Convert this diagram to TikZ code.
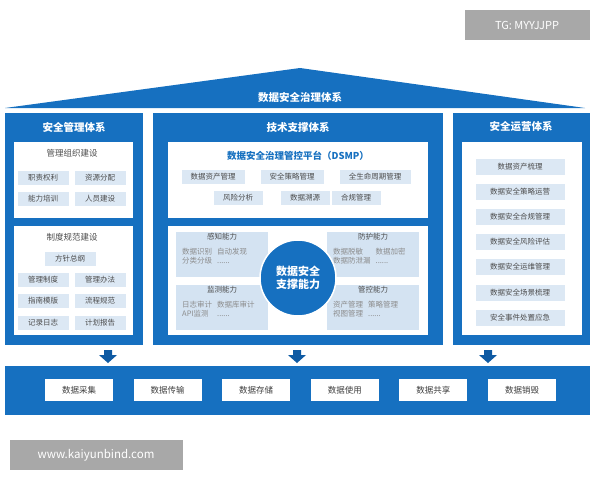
\documentclass[tikz,border=0pt]{standalone}
\usepackage{fontspec}
\setmainfont{Noto Sans CJK SC}
\usetikzlibrary{positioning}
\definecolor{sblue}{HTML}{1670C0}
\definecolor{dblue}{HTML}{0E5AA3}
\definecolor{lblue}{HTML}{DCE8F4}
\definecolor{pblue}{HTML}{D4E3F2}
\definecolor{wgray}{HTML}{A8A8A8}
\newcommand{\etcdots}{......}
\begin{document}
\begin{tikzpicture}[x=1pt,y=-1pt,
    btn/.style={fill=lblue, draw=white, minimum height=15, inner sep=1pt, font=\fontsize{7.5}{8}\selectfont, text=black!70},
    stage/.style={fill=white, minimum width=68, minimum height=22, inner sep=1pt, font=\fontsize{8.5}{9}\selectfont, text=black!75},
    head/.style={text=white, font=\fontsize{10.5}{11}\selectfont\bfseries},
    sub/.style={text=black!70, font=\fontsize{8.5}{9}\selectfont},
    ability/.style={fill=pblue, minimum width=92, minimum height=45, anchor=north west},
    small/.style={text=black!45, font=\fontsize{7.5}{9}\selectfont},
    darr/.style={fill=dblue, draw=none}]
  \useasboundingbox (0,0) rectangle (600,480);
  \fill[white] (0,0) rectangle (600,480);

  % watermarks
  \node[fill=wgray, minimum width=125, minimum height=30, text=white, font=\fontsize{11}{12}\selectfont] (tg) at (527,25) {TG: MYYJJPP};
  \node[fill=wgray, minimum width=173, minimum height=30, text=white, font=\fontsize{11.5}{12}\selectfont] (www) at (96,455) {www.kaiyunbind.com};

  % roof
  \fill[sblue] (5,108) -- (300,68) -- (585,108) -- cycle;
  \node[head] (roof) at (300,97) {数据安全治理体系};

  % columns
  \fill[sblue] (5,113) rectangle (143,345);
  \fill[sblue] (153,113) rectangle (443,345);
  \fill[sblue] (453,113) rectangle (590,345);
  \node[head] (mgmt) at (74,127) {安全管理体系};
  \node[head] (tech) at (298,127) {技术支撑体系};
  \node[head] (ops) at (521,127) {安全运营体系};

  % left column
  \fill[white] (14,142) rectangle (133,218);
  \fill[white] (14,226) rectangle (133,335);
  \node[sub] (org) at (72,153) {管理组织建设};
  \node[btn, minimum width=52] (o1) at (43,178) {职责权利};
  \node[btn, minimum width=52] (o2) at (100,178) {资源分配};
  \node[btn, minimum width=52] (o3) at (43,199) {能力培训};
  \node[btn, minimum width=52] (o4) at (100,199) {人员建设};
  \node[sub] (rule) at (72,237) {制度规范建设};
  \node[btn, minimum width=52] (r0) at (70,259) {方针总纲};
  \node[btn, minimum width=52] (r1) at (43,280) {管理制度};
  \node[btn, minimum width=52] (r2) at (100,280) {管理办法};
  \node[btn, minimum width=52] (r3) at (43,301) {指南模版};
  \node[btn, minimum width=52] (r4) at (100,301) {流程规范};
  \node[btn, minimum width=52] (r5) at (43,323) {记录日志};
  \node[btn, minimum width=52] (r6) at (100,323) {计划报告};

  % middle column
  \fill[white] (168,142) rectangle (428,218);
  \fill[white] (168,226) rectangle (428,335);
  \node[text=sblue, font=\fontsize{9.5}{10}\selectfont\bfseries] (dsmp) at (298,156) {数据安全治理管控平台（DSMP）};
  \node[btn, minimum width=64] (p1) at (213,177) {数据资产管理};
  \node[btn, minimum width=64] (p2) at (292,177) {安全策略管理};
  \node[btn, minimum width=72] (p3) at (375,177) {全生命周期管理};
  \node[btn, minimum width=50] (p4) at (238,198) {风险分析};
  \node[btn, minimum width=50] (p5) at (305,198) {数据溯源};
  \node[btn, minimum width=50] (p6) at (356,198) {合规管理};

  \node[ability] (a1) at (176,232) {};
  \node[ability] (a2) at (176,285) {};
  \node[ability] (a3) at (327,232) {};
  \node[ability] (a4) at (327,285) {};
  \foreach \n/\t/\a/\b/\c in {a1/感知能力/数据识别/自动发现/分类分级,
                          a2/监测能力/日志审计/数据库审计/API监测,
                          a3/防护能力/数据脱敏/数据加密/数据防泄漏,
                          a4/管控能力/资产管理/策略管理/视图管理}{
    \node[sub, font=\fontsize{7.5}{8}\selectfont, below=2 of \n.north] (\n t) {\t};
    \node[small, anchor=north west, inner sep=0pt] (\n x) at ([xshift=6,yshift=-16]\n.north west)
      {\renewcommand\arraystretch{0.95}\begin{tabular}{@{}l@{\hspace{5pt}}l@{}}\a & \b\\ \c & \etcdots\end{tabular}};
  }
  \node[circle, fill=sblue, draw=white, line width=1.5, minimum size=76, text=white,
        font=\fontsize{11}{13}\selectfont\bfseries, align=center] (core) at (298,278) {数据安全\\支撑能力};

  % right column
  \fill[white] (462,142) rectangle (582,335);
  \foreach \t [count=\i] in {数据资产梳理,数据安全策略运营,数据安全合规管理,数据安全风险评估,数据安全运维管理,数据安全场景梳理,安全事件处置应急}
    \node[btn, minimum width=90, minimum height=17] (s\i) at (520,141+25.2*\i) {\t};

  % arrows
  \foreach \x/\n in {108/d1,297/d2,488/d3}{
    \fill[darr] (\x-4,350) -- (\x+4,350) -- (\x+4,355) -- (\x+9,355) -- (\x,363) -- (\x-9,355) -- (\x-4,355) -- cycle;
  }

  % bottom bar
  \fill[sblue] (5,366) rectangle (590,415);
  \foreach \t [count=\i] in {数据采集,数据传输,数据存储,数据使用,数据共享,数据销毁}
    \node[stage] (b\i) at (79+88.6*\i-88.6,390) {\t};
\end{tikzpicture}
\end{document}
